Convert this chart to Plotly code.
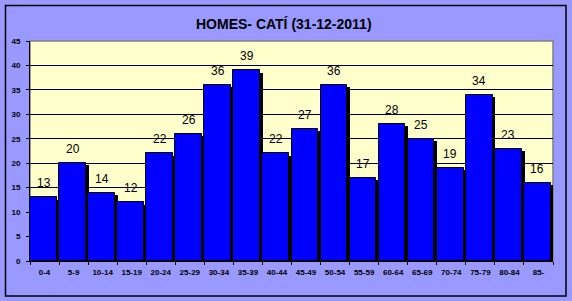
import plotly.graph_objects as go

categories = ["0-4", "5-9", "10-14", "15-19", "20-24", "25-29", "30-34", "35-39", "40-44",
              "45-49", "50-54", "55-59", "60-64", "65-69", "70-74", "75-79", "80-84", "85-"]
values = [13, 20, 14, 12, 22, 26, 36, 39, 22, 27, 36, 17, 28, 25, 19, 34, 23, 16]
y_ticks = [0, 5, 10, 15, 20, 25, 30, 35, 40, 45]
title_text = "HOMES- CATÍ (31-12-2011)"

W, H = 572, 301
L, R, T, B = 30, 19, 41, 40
pw, ph = W - L - R, H - T - B

fig = go.Figure()
# shadow
fig.add_trace(go.Bar(
    x=categories, y=[v - 0.45 for v in values],
    marker=dict(color="black", line=dict(width=0)),
    offset=-0.5 + 0.1, width=0.92, hoverinfo="skip", showlegend=False,
))
# main bars
fig.add_trace(go.Bar(
    x=categories, y=values,
    marker=dict(color="#0000FF", line=dict(color="black", width=1)),
    offset=-0.5, width=0.92, showlegend=False,
))

annotations = []
for c, v in zip(categories, values):
    annotations.append(dict(
        x=c, y=v, xref="x", yref="y", text=str(v), showarrow=False,
        yanchor="middle", yshift=14, xshift=-1,
        font=dict(family="Arial, Liberation Sans", size=12, color="black"),
    ))
annotations.append(dict(
    x=(W / 2 - 2 - L) / pw, y=(H - B - 24) / ph, xref="paper", yref="paper",
    text="<b>" + title_text + "</b>", showarrow=False, xanchor="center", yanchor="middle",
    font=dict(family="Arial, Liberation Sans", size=14, color="black"),
))

shapes = [
    # outer border
    dict(type="rect", xref="paper", yref="paper",
         x0=(5.5 - L) / pw, x1=(566 - L) / pw,
         y0=(H - B - 296) / ph, y1=(H - B - 5.5) / ph,
         line=dict(color="black", width=1.5), layer="below"),
    # plot area border (gray)
    dict(type="rect", xref="paper", yref="paper", x0=0, x1=1, y0=0, y1=1,
         line=dict(color="#808080", width=1.5), layer="below"),
]

fig.update_layout(
    width=W, height=H,
    margin=dict(l=L, r=R, t=T, b=B),
    paper_bgcolor="#9999FF",
    plot_bgcolor="#FFFFCC",
    barmode="overlay",
    bargap=0,
    annotations=annotations,
    shapes=shapes,
    xaxis=dict(
        type="category", showline=True, linecolor="black", linewidth=1,
        ticks="outside", tickson="boundaries", ticklen=3, tickcolor="black",
        ticklabelstandoff=3, tickangle=0,
        tickfont=dict(family="Arial, Liberation Sans", size=8, color="black", weight="bold"),
        showgrid=False, range=[-0.5, len(categories) - 0.5], fixedrange=True,
    ),
    yaxis=dict(
        range=[0, 45], tickvals=y_ticks, showline=True, linecolor="black", linewidth=1,
        ticks="outside", ticklen=3, tickcolor="black", ticklabelstandoff=4,
        tickfont=dict(family="Arial, Liberation Sans", size=8, color="black", weight="bold"),
        showgrid=True, gridcolor="black", gridwidth=1, zeroline=False,
    ),
)

fig.write_html("out.html")
